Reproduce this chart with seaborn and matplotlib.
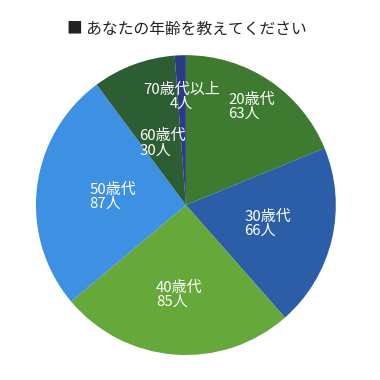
import numpy as np
import matplotlib
matplotlib.use("Agg")
import matplotlib.pyplot as plt
import seaborn as sns

categories = ["20歳代", "30歳代", "40歳代", "50歳代", "60歳代", "70歳代以上"]
counts = [63, 66, 85, 87, 30, 4]
title = "■ あなたの年齢を教えてください"

colors = ["#3e7a30", "#2b5ea7", "#67a83b", "#3e90e2", "#2c5d33", "#2b3a87"]
label_r = [0.79, 0.56, 0.60, 0.49, 0.44, 0.72]
label_align = ["left", "left", "left", "left", "left", "center"]

sns.set_style("white")
plt.rcParams['font.family'] = ['Noto Sans CJK JP', 'DejaVu Sans']

fig = plt.figure(figsize=(3.8, 3.8), dpi=100)
ax = fig.add_axes([0.0947, 0.0658, 0.789, 0.789])
wedges, _ = ax.pie(counts, colors=colors, startangle=90, counterclock=False,
                   radius=1.0, wedgeprops=dict(linewidth=0))
ax.set_xlim(-1, 1)
ax.set_ylim(-1, 1)
ax.set_aspect("equal")
ax.axis("off")

for w, cat, n, r, al in zip(wedges, categories, counts, label_r, label_align):
    ang = np.deg2rad((w.theta1 + w.theta2) / 2)
    x, y = r * np.cos(ang), r * np.sin(ang)
    ax.text(x, y, f"{cat}\n{n}人", ha="center", va="center", multialignment=al,
            color="white", fontsize=10.8, linespacing=1.0)

fig.text(0.492, 0.922, title, ha="center", va="center", fontsize=11.3, color="#222222")
fig.savefig("out.png", dpi=100, facecolor="white")
